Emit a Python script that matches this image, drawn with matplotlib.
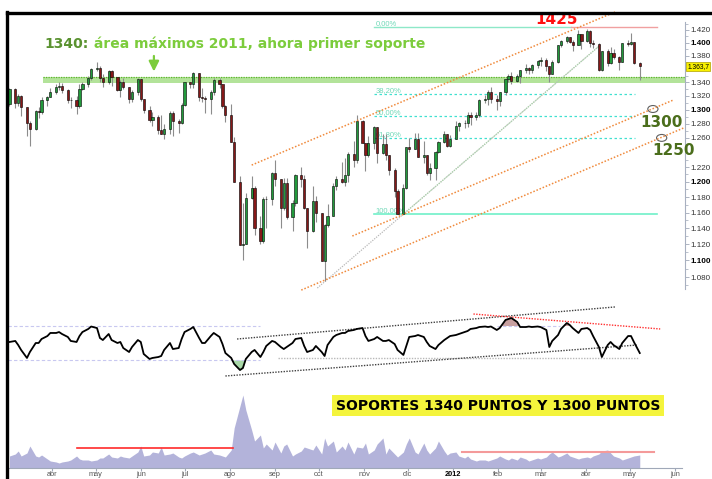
import numpy as np
import pandas as pd
import matplotlib
matplotlib.use("Agg")
import matplotlib.pyplot as plt
import matplotlib.dates as mdates
from matplotlib.patches import Ellipse
from matplotlib.lines import Line2D
from matplotlib.ticker import FixedLocator, NullFormatter

plt.rcParams["font.family"] = ["Liberation Sans", "DejaVu Sans"]

# --- data (every 2nd trading day, Mar 2011 -> May 2012) ---
first_open = 1308
close = np.array([
    1330, 1310, 1320, 1304, 1281, 1273, 1298, 1297, 1314, 1319, 1326,
    1333, 1335, 1328, 1314, 1314, 1305, 1330, 1337, 1347, 1360,
    1361, 1347, 1340, 1357, 1348, 1329, 1340, 1333, 1316, 1325, 1345,
    1315, 1300, 1285, 1289, 1271, 1266, 1272, 1295, 1284, 1281, 1307,
    1340, 1337, 1354, 1319, 1317, 1316, 1326, 1344, 1337, 1305, 1292,
    1254, 1200, 1119, 1120, 1179, 1192, 1140, 1124, 1177, 1177, 1212,
    1204, 1166, 1199, 1154, 1172, 1209, 1204, 1166, 1136, 1175, 1160,
    1099, 1144, 1155, 1195, 1204, 1200, 1209, 1238, 1229, 1284, 1253,
    1237, 1253, 1276, 1239, 1251, 1237, 1216, 1188, 1158, 1192, 1247,
    1244, 1258, 1234, 1236, 1212, 1219, 1241, 1254, 1265, 1249, 1258,
    1277, 1281, 1281, 1292, 1289, 1293, 1314, 1316, 1326, 1316, 1312,
    1325, 1345, 1350, 1342, 1350, 1358, 1362, 1358, 1366, 1372,
    1374, 1364, 1353, 1370, 1396, 1403, 1409, 1402, 1397, 1413, 1403,
    1419, 1399, 1398, 1358, 1387, 1369, 1385, 1378, 1371, 1399, 1398,
    1402, 1369, 1364,
], dtype=float)
high = np.array([
    1332, 1332, 1323, 1322, 1304, 1284, 1300, 1304, 1319, 1320, 1332,
    1337, 1341, 1339, 1330, 1318, 1320, 1337, 1341, 1349, 1362,
    1370, 1365, 1352, 1359, 1359, 1346, 1343, 1346, 1333, 1328, 1346,
    1345, 1316, 1306, 1297, 1292, 1292, 1280, 1298, 1298, 1287, 1310,
    1341, 1341, 1356, 1354, 1331, 1320, 1328, 1347, 1346, 1338, 1307,
    1308, 1261, 1208, 1172, 1186, 1208, 1194, 1155, 1180, 1181, 1213,
    1230, 1204, 1205, 1205, 1176, 1210, 1220, 1209, 1166, 1195, 1182,
    1160, 1145, 1171, 1198, 1208, 1227, 1232, 1240, 1256, 1293, 1285,
    1253, 1262, 1277, 1276, 1266, 1265, 1237, 1218, 1191, 1197, 1248,
    1260, 1267, 1267, 1255, 1237, 1225, 1242, 1255, 1269, 1266, 1264,
    1284, 1283, 1285, 1296, 1296, 1297, 1315, 1322, 1328, 1333, 1322,
    1326, 1346, 1352, 1355, 1352, 1359, 1368, 1363, 1368, 1374,
    1378, 1376, 1364, 1374, 1396, 1404, 1410, 1409, 1405, 1420, 1413,
    1422, 1420, 1404, 1399, 1388, 1390, 1393, 1391, 1380, 1400, 1405,
    1415, 1402, 1370,
], dtype=float)
low = np.array([
    1305, 1302, 1305, 1291, 1262, 1249, 1271, 1288, 1294, 1305, 1318,
    1323, 1328, 1324, 1310, 1302, 1294, 1303, 1329, 1333, 1343,
    1357, 1341, 1333, 1337, 1334, 1327, 1318, 1330, 1310, 1311, 1322,
    1313, 1295, 1283, 1277, 1266, 1265, 1258, 1265, 1262, 1267, 1279,
    1305, 1331, 1331, 1312, 1311, 1295, 1294, 1321, 1331, 1303, 1283,
    1254, 1200, 1119, 1101, 1120, 1177, 1132, 1120, 1122, 1140, 1170,
    1195, 1140, 1163, 1152, 1136, 1168, 1193, 1164, 1115, 1135, 1148,
    1099, 1075, 1142, 1155, 1189, 1198, 1195, 1200, 1220, 1225, 1253,
    1215, 1234, 1245, 1226, 1238, 1230, 1209, 1180, 1158, 1158, 1190,
    1240, 1244, 1233, 1226, 1209, 1203, 1202, 1239, 1253, 1248, 1248,
    1258, 1270, 1274, 1275, 1278, 1285, 1290, 1310, 1307, 1310, 1300,
    1306, 1322, 1341, 1337, 1340, 1339, 1354, 1352, 1354, 1362,
    1364, 1357, 1340, 1352, 1369, 1394, 1400, 1399, 1387, 1396, 1391,
    1401, 1394, 1392, 1357, 1357, 1365, 1368, 1375, 1358, 1371, 1395,
    1396, 1367, 1343,
], dtype=float)
rsi = np.array([
    51.2, 52.4, 47.6, 41.8, 32.4, 39.4, 50.0, 50.0, 54.7, 58.2,
    61.8, 61.8, 62.9, 60.6, 57.1, 52.4, 51.2, 58.2, 62.9, 66.5,
    69.4, 67.6, 55.9, 53.5, 60.6, 53.5, 50.0, 51.2, 44.1, 39.4,
    45.3, 53.5, 51.2, 37.1, 31.2, 32.4, 33.5, 34.7, 41.8, 50.0,
    42.9, 44.1, 54.7, 62.9, 66.5, 68.8, 55.9, 50.0, 50.0, 58.2,
    61.8, 57.1, 48.8, 38.2, 32.4, 25.3, 18.2, 20.6, 31.2, 39.4,
    41.8, 33.5, 39.4, 46.5, 52.4, 51.2, 45.3, 42.9, 45.3, 50.0,
    54.7, 55.9, 46.5, 39.4, 41.8, 46.5, 39.4, 34.7, 47.6, 57.1,
    59.4, 61.8, 61.8, 64.1, 65.3, 66.5, 67.6, 58.2, 52.4, 54.7,
    57.1, 52.4, 52.4, 53.5, 48.8, 41.8, 35.9, 46.5, 57.1, 58.2,
    59.4, 57.1, 51.2, 46.5, 42.9, 47.6, 53.5, 55.9, 58.2, 59.4,
    60.6, 62.9, 64.1, 66.5, 67.6, 68.8, 69.4, 68.8, 69.4, 65.3,
    67.6, 77.1, 78.2, 79.4, 74.7, 68.8, 68.8, 69.4, 68.8, 69.4,
    68.8, 65.3, 45.3, 52.4, 59.4, 66.5, 73.5, 71.2, 67.6, 61.8,
    66.5, 67.6, 65.3, 58.2, 45.3, 33.5, 47.6, 51.2, 47.6, 42.9,
    50.0, 58.2, 58.2, 51.2, 38.2,
])
volume = np.array([
    12, 14, 17, 12, 15, 22, 12, 11, 13, 9,
    7, 6, 5, 6, 7, 8, 12, 9, 8, 8,
    7, 8, 10, 10, 14, 11, 10, 12, 11, 10,
    12, 16, 22, 12, 13, 16, 15, 21, 13, 14,
    15, 11, 10, 12, 15, 16, 13, 14, 15, 18,
    14, 13, 12, 11, 18, 40, 62, 73, 58, 38,
    27, 33, 20, 24, 18, 26, 15, 22, 24, 12,
    14, 17, 21, 20, 18, 23, 14, 30, 22, 27,
    16, 22, 18, 26, 14, 21, 20, 25, 14, 18,
    24, 30, 14, 20, 14, 11, 16, 24, 30, 16,
    14, 25, 18, 14, 20, 27, 17, 13, 15, 16,
    12, 10, 12, 9, 7, 8, 8, 7, 8, 10,
    12, 9, 8, 10, 8, 11, 9, 7, 8, 10,
    9, 11, 14, 16, 11, 12, 15, 12, 11, 9,
    10, 11, 10, 12, 14, 17, 18, 15, 12, 10,
    8, 10, 11, 12, 13,
], dtype=float)

fib_levels = [1425, 1323, 1291.5, 1260, 1158]
fib_labels = ["0,00%", "38,20%", "50,00%", "61,80%", "100,00%"]
price_ticks = [1080, 1100, 1120, 1140, 1160, 1180, 1200, 1220,
               1260, 1280, 1300, 1320, 1340, 1380, 1400, 1420]
month_labels = ["abr", "may", "jun", "jul", "ago", "sep", "oct", "nov",
                "dic", "2012", "feb", "mar", "abr", "may", "jun"]
last_price = 1363.7

dates = pd.bdate_range("2011-03-03", periods=len(close), freq="2B")
x = mdates.date2num(dates.to_pydatetime())
opens = np.r_[first_open, close[:-1]]


def d(s):
    return mdates.datestr2num(s)


XLIM = (d("2011-03-02"), d("2012-06-08"))
W, H = 712, 479
fig = plt.figure(figsize=(W / 100, H / 100), dpi=100)


def box(top, bottom, left=8, right=685):
    return [left / W, 1 - bottom / H, (right - left) / W, (bottom - top) / H]


ax_vol = fig.add_axes(box(378, 468))
ax_rsi = fig.add_axes(box(300.5, 385.5))
ax = fig.add_axes(box(13, 295))
for a in (ax, ax_rsi, ax_vol):
    a.set_facecolor("none")
    a.set_xlim(*XLIM)

# --- price panel ---
ax.set_yscale("log")
ax.set_ylim(1058.7, 1447)
up = close >= opens
ax.vlines(x, low, high, color="#8c8c8c", lw=0.8, zorder=3)
ax.bar(x, close - opens, bottom=opens, width=1.5,
       color=np.where(up, "#229a3c", "#861818"),
       edgecolor="black", linewidth=0.4, zorder=4)

# 1340 support band
ax.fill_between([d("2011-03-26"), XLIM[1]], 1339, 1348.5, color="#b3e39a", lw=0, zorder=1)
ax.plot([d("2011-03-26"), XLIM[1]], [1347.5, 1347.5], color="#5fb52e", lw=0.9,
        ls=(0, (1, 1)), zorder=2)

# fibonacci retracement
fib_start, fib_end = d("2011-11-08"), d("2012-05-05")
ax.plot([fib_start, d("2012-03-22")], [fib_levels[0]] * 2, color="#8ee8c8", lw=1, zorder=2)
ax.plot([d("2012-03-22"), d("2012-05-20")], [fib_levels[0]] * 2, color="#f0a0a0", lw=1, zorder=2)
for lvl in fib_levels[1:4]:
    ax.plot([fib_start, fib_end], [lvl, lvl], color="#40e0d0", lw=0.9,
            ls=(0, (2, 2)), zorder=2)
ax.plot([fib_start, d("2012-05-20")], [fib_levels[4]] * 2, color="#70f0c8", lw=1.2, zorder=2)
for lvl, lab in zip(fib_levels, fib_labels):
    ax.text(d("2011-11-09"), lvl, lab, fontsize=5.5, color="#70d8b8",
            ha="left", va="bottom", zorder=2)

# trend channels
orange = dict(color="#f08a3c", lw=1.1, ls=(0, (1, 1.2)), zorder=5, clip_on=False)
ax.plot([d("2011-08-16"), d("2012-04-21")], [1222.6, 1448.6], **orange)
ax.plot([d("2011-10-24"), d("2012-05-31")], [1130.2, 1314.0], **orange)
ax.plot([d("2011-09-19"), d("2012-06-07")], [1064.5, 1273.9], **orange)
ax.plot([d("2011-09-30"), d("2012-04-11")], [1066.9, 1396.6], color="#b8b8b8",
        lw=0.9, ls=(0, (1, 1)), zorder=2)
ax.plot([d("2011-11-28"), d("2012-04-11")], [1158, 1396.6], color="#a8d8a8",
        lw=0.8, ls=(0, (1, 1)), zorder=2)

# annotations
t1 = ax.text(d("2011-03-27"), 1398, "1340:", color="#5a9230", fontsize=10,
             fontweight="bold", family="DejaVu Sans", va="center", ha="left")
ax.annotate(" área máximos 2011, ahora primer soporte", xy=(1, 0.5), xycoords=t1,
            color="#7ccc3c", fontsize=10, fontweight="bold", family="DejaVu Sans",
            va="center", ha="left")
ax.annotate("", xy=(d("2011-06-10"), 1352), xytext=(d("2011-06-10"), 1384),
            arrowprops=dict(arrowstyle="-|>,head_width=0.3,head_length=0.6",
                            color="#7ccc3c", lw=1.6))
ax.text(d("2012-03-12"), 1436, "1425", color="#ff1010", fontsize=11,
        fontweight="bold", family="DejaVu Sans", ha="center", va="center", clip_on=False)
ax.text(d("2012-05-23"), 1282, "1300", color="#4b6e1c", fontsize=11,
        fontweight="bold", family="DejaVu Sans", ha="center", va="center", clip_on=False)
ax.text(d("2012-05-31"), 1243, "1250", color="#4b6e1c", fontsize=11,
        fontweight="bold", family="DejaVu Sans", ha="center", va="center", clip_on=False,
        zorder=6)
ax.add_patch(Ellipse((d("2012-05-17"), 1301), 7, 10, fill=False, ec="#606060", lw=0.8))
ax.add_patch(Ellipse((d("2012-05-23"), 1260), 7, 9.6, fill=False, ec="#606060", lw=0.8))

# right price axis
for s in ("top", "left", "bottom"):
    ax.spines[s].set_visible(False)
ax.spines["right"].set_color("#a8b0c0")
ax.spines["right"].set_bounds(1066, 1432)
ax.set_xticks([])
ax.yaxis.tick_right()
ax.yaxis.set_major_locator(FixedLocator(price_ticks))
ax.yaxis.set_minor_locator(FixedLocator(np.arange(1070, 1431, 10)))
ax.yaxis.set_minor_formatter(NullFormatter())
ax.set_yticklabels(["1.%03d" % (p - 1000) for p in price_ticks])
ax.tick_params(axis="y", which="major", length=3, width=0.6, color="#a0a8b8",
               labelsize=5.8, labelcolor="#333333", pad=1)
ax.tick_params(axis="y", which="minor", length=2, width=0.5, color="#a0a8b8")
for p, lab in zip(price_ticks, ax.get_yticklabels()):
    if p % 100 == 0:
        lab.set_fontweight("bold")
        lab.set_color("black")
ax.annotate("1.363,7", xy=(1, last_price), xycoords=("axes fraction", "data"),
            xytext=(1.5, 0), textcoords="offset points", fontsize=4.8, va="center",
            ha="left", bbox=dict(boxstyle="square,pad=0.12", fc="#f8f000",
                                 ec="#b0a000", lw=0.5), annotation_clip=False)

# --- RSI panel ---
ax_rsi.set_ylim(0, 100)
ax_rsi.axis("off")
ax_rsi.plot(x, rsi, color="black", lw=1.3, zorder=4)
ax_rsi.fill_between(x, rsi, 70, where=rsi > 70, interpolate=True, color="#c8a0a0", lw=0)
ax_rsi.fill_between(x, rsi, 30, where=rsi < 30, interpolate=True, color="#a8d8a8", lw=0)
lav = dict(color="#c8c8f0", lw=0.8, ls=(0, (3, 2)))
ax_rsi.plot([XLIM[0], d("2011-08-22")], [70, 70], **lav)
ax_rsi.plot([XLIM[0], d("2011-08-22")], [30, 30], **lav)
ax_rsi.plot([d("2012-01-31"), d("2012-03-14")], [70, 70], **lav)
ax_rsi.plot([d("2011-09-03"), d("2012-05-07")], [32.4, 32.4], color="#b8b8b8",
            lw=1, ls=(0, (1, 1)))
dots = dict(color="#404040", lw=1, ls=(0, (1, 1)), clip_on=False)
ax_rsi.plot([d("2011-08-06"), d("2012-04-21")], [54.7, 92.4], **dots)
ax_rsi.plot([d("2011-07-29"), d("2012-05-06")], [11.2, 47.6], **dots)
ax_rsi.plot([d("2012-01-15"), d("2012-05-22")], [84.1, 66.5], color="#ff3030",
            lw=1, ls=(0, (1, 1)), clip_on=False)

# --- volume panel ---
ax_vol.set_ylim(0, 90)
ax_vol.fill_between(x, volume, 0, color="#b3b3da", lw=0)
ax_vol.plot([d("2011-04-18"), d("2011-08-03")], [20, 20], color="#ff2a2a", lw=1.2)
ax_vol.plot([d("2012-01-07"), d("2012-05-18")], [16, 16], color="#f49a9a", lw=1.5)
for s in ("top", "left", "right"):
    ax_vol.spines[s].set_visible(False)
ax_vol.spines["bottom"].set_color("#a0a8b8")
ax_vol.spines["bottom"].set_bounds(XLIM[0], d("2012-06-06"))
ax_vol.set_yticks([])
month_ticks = mdates.date2num(pd.date_range("2011-04-01", periods=len(month_labels),
                                            freq="MS").to_pydatetime())
ax_vol.set_xticks(month_ticks)
ax_vol.set_xticklabels(month_labels)
ax_vol.tick_params(axis="x", length=2, color="#a0a8b8", labelsize=5.3,
                   labelcolor="#555555", pad=0.5)
for lab in ax_vol.get_xticklabels():
    if lab.get_text() == "2012":
        lab.set_fontweight("bold")
        lab.set_color("black")

# --- banner + frame ---
fig.text(498 / W, 1 - 405.5 / H, "SOPORTES 1340 PUNTOS Y 1300 PUNTOS",
         ha="center", va="center", fontsize=10, fontweight="bold", family="DejaVu Sans",
         bbox=dict(boxstyle="square,pad=0.25", fc="#f4f43c", ec="none"))
fig.add_artist(Line2D([7 / W, 7 / W], [0, 1 - 12 / H], color="black", lw=2.4,
                      transform=fig.transFigure))
fig.add_artist(Line2D([7 / W, 1], [1 - 12.5 / H] * 2, color="black", lw=2.4,
                      transform=fig.transFigure))

fig.savefig("out.png", dpi=100)
